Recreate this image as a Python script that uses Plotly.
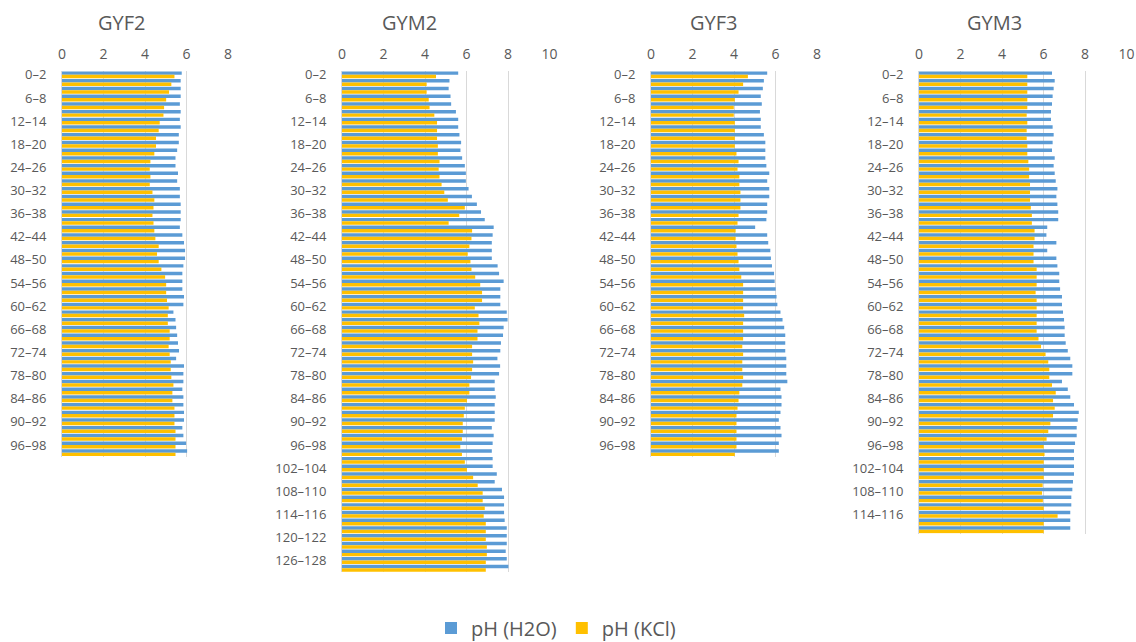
import plotly.graph_objects as go

W, H = 1136, 642

def depth_labels(n):
    return [f"{2*i}\u2013{2*i+2}" for i in range(n)]

# ---------------- data ----------------
gyf2_h2o = [5.77, 5.72, 5.72, 5.72, 5.68, 5.72, 5.68, 5.72, 5.63, 5.63,
            5.55, 5.47, 5.47, 5.59, 5.55, 5.68, 5.68, 5.72, 5.72, 5.72,
            5.68, 5.80, 5.88, 5.93, 5.93, 5.85, 5.80, 5.80, 5.80, 5.88,
            5.85, 5.37, 5.47, 5.50, 5.55, 5.59, 5.64, 5.50, 5.88, 5.85,
            5.85, 5.80, 5.85, 5.85, 5.88, 5.88, 5.80, 5.85, 5.98, 6.03]
gyf2_kcl = [5.42, 5.27, 5.16, 5.02, 4.92, 4.89, 4.71, 4.66, 4.53, 4.53,
            4.45, 4.26, 4.23, 4.26, 4.23, 4.36, 4.45, 4.41, 4.36, 4.41,
            4.45, 4.50, 4.66, 4.58, 4.66, 4.79, 4.97, 5.02, 5.02, 5.06,
            5.14, 5.10, 5.10, 5.19, 5.19, 5.14, 5.19, 5.24, 5.24, 5.27,
            5.37, 5.32, 5.32, 5.42, 5.42, 5.42, 5.47, 5.47, 5.47, 5.47]

gym2_h2o = [5.60, 5.18, 5.14, 5.23, 5.26, 5.49, 5.60, 5.60, 5.66, 5.74,
            5.71, 5.79, 5.92, 5.97, 5.97, 6.10, 6.26, 6.50, 6.70, 6.88,
            7.31, 7.26, 7.22, 7.22, 7.22, 7.50, 7.57, 7.79, 7.63, 7.63,
            7.63, 7.94, 7.98, 7.79, 7.76, 7.66, 7.63, 7.49, 7.62, 7.57,
            7.36, 7.36, 7.41, 7.36, 7.36, 7.36, 7.22, 7.31, 7.26, 7.22,
            7.26, 7.26, 7.46, 7.36, 7.71, 7.81, 7.81, 7.81, 7.84, 7.94,
            7.94, 7.94, 7.89, 7.94, 8.02]
gym2_kcl = [4.53, 4.08, 4.08, 4.18, 4.22, 4.45, 4.58, 4.58, 4.58, 4.62,
            4.62, 4.70, 4.66, 4.70, 4.80, 4.93, 5.10, 5.92, 5.65, 5.14,
            6.27, 6.24, 6.14, 6.06, 6.19, 6.24, 6.42, 6.66, 6.75, 6.75,
            6.40, 6.58, 6.62, 6.53, 6.53, 6.27, 6.27, 6.32, 6.27, 6.22,
            6.14, 6.14, 6.02, 5.92, 5.87, 5.82, 5.82, 5.78, 5.70, 5.78,
            5.92, 6.02, 6.32, 6.54, 6.78, 6.78, 6.88, 6.83, 6.93, 6.93,
            6.93, 6.98, 6.98, 6.93, 6.93]

gyf3_h2o = [5.60, 5.44, 5.39, 5.29, 5.34, 5.25, 5.29, 5.29, 5.44, 5.51,
            5.51, 5.51, 5.56, 5.70, 5.60, 5.70, 5.70, 5.60, 5.60, 5.56,
            5.02, 5.60, 5.65, 5.75, 5.78, 5.83, 5.93, 5.96, 6.01, 6.05,
            6.09, 6.24, 6.34, 6.42, 6.47, 6.47, 6.47, 6.52, 6.52, 6.52,
            6.57, 6.24, 6.29, 6.29, 6.24, 6.16, 6.24, 6.29, 6.16, 6.16]
gyf3_kcl = [4.67, 4.44, 4.22, 4.04, 3.99, 3.99, 4.04, 4.04, 4.04, 4.04,
            4.12, 4.22, 4.17, 4.26, 4.26, 4.31, 4.31, 4.31, 4.22, 4.17,
            4.08, 4.08, 4.12, 4.17, 4.22, 4.26, 4.35, 4.44, 4.44, 4.44,
            4.44, 4.49, 4.44, 4.44, 4.44, 4.40, 4.44, 4.40, 4.40, 4.44,
            4.40, 4.26, 4.22, 4.17, 4.12, 4.12, 4.12, 4.12, 4.12, 4.04]

gym3_h2o = [6.41, 6.54, 6.49, 6.44, 6.41, 6.36, 6.36, 6.44, 6.49, 6.44,
            6.41, 6.54, 6.49, 6.54, 6.59, 6.67, 6.62, 6.67, 6.71, 6.71,
            6.18, 6.14, 6.62, 6.18, 6.62, 6.67, 6.76, 6.76, 6.80, 6.89,
            6.89, 6.94, 6.99, 7.02, 7.02, 7.07, 7.17, 7.29, 7.39, 7.39,
            6.89, 7.17, 7.29, 7.47, 7.70, 7.65, 7.60, 7.60, 7.52, 7.47,
            7.47, 7.47, 7.47, 7.42, 7.39, 7.34, 7.34, 7.29, 7.29, 7.29]
gym3_kcl = [5.22, 5.22, 5.22, 5.22, 5.22, 5.19, 5.22, 5.19, 5.19, 5.22,
            5.22, 5.27, 5.31, 5.31, 5.35, 5.35, 5.35, 5.39, 5.44, 5.44,
            5.57, 5.57, 5.52, 5.52, 5.52, 5.67, 5.67, 5.67, 5.62, 5.67,
            5.67, 5.67, 5.67, 5.67, 5.76, 5.88, 6.10, 6.23, 6.28, 6.28,
            6.41, 6.59, 6.46, 6.54, 6.46, 6.33, 6.23, 6.15, 6.01, 6.05,
            6.01, 6.01, 6.01, 5.96, 5.93, 5.97, 6.01, 6.68, 6.01, 6.01]

panel_titles = ["GYF2", "GYM2", "GYF3", "GYM3"]
panel_h2o = [gyf2_h2o, gym2_h2o, gyf3_h2o, gym3_h2o]
panel_kcl = [gyf2_kcl, gym2_kcl, gyf3_kcl, gym3_kcl]
x_max = [8, 10, 8, 10]
x_ticks = [[0, 2, 4, 6, 8], [0, 2, 4, 6, 8, 10], [0, 2, 4, 6, 8], [0, 2, 4, 6, 8, 10]]

# ---------------- layout geometry (screen pixels) ----------------
x_left = [62, 342, 651, 919]
px_per_unit = 20.75
cat_px = 7.71
top_px = 71
title_x = [121, 409, 713, 994]
title_y = 22
legend_cx, legend_cy = 556, 628

BLUE = "#5B9BD5"
YELLOW = "#FFC000"
GRAY_TXT = "#595959"
GRID = "#D9D9D9"
FONT = "Open Sans"

def px(x):
    return x / W

def py(y):
    return 1 - y / H

fig = go.Figure()
layout = dict(
    template="none",
    width=W, height=H,
    margin=dict(l=0, r=0, t=0, b=0, pad=0, autoexpand=False),
    paper_bgcolor="white", plot_bgcolor="white",
    barmode="group", bargap=0.1, bargroupgap=0.0,
    font=dict(family=FONT, color=GRAY_TXT, size=13),
    showlegend=True,
    legend=dict(orientation="h", x=px(legend_cx), xanchor="center",
                y=py(legend_cy), yanchor="middle",
                font=dict(size=20, color=GRAY_TXT, family=FONT), traceorder="normal",
                bgcolor="rgba(0,0,0,0)"),
    annotations=[],
)

for i in range(4):
    n = len(panel_h2o[i])
    cats = depth_labels(n)
    xa = "x" if i == 0 else f"x{i+1}"
    ya = "y" if i == 0 else f"y{i+1}"
    fig.add_trace(go.Bar(y=cats, x=panel_h2o[i], orientation="h", name="pH (H2O)",
                         marker=dict(color=BLUE, line=dict(width=0)),
                         xaxis=xa, yaxis=ya, legendgroup="h2o", showlegend=(i == 0)))
    fig.add_trace(go.Bar(y=cats, x=panel_kcl[i], orientation="h", name="pH (KCl)",
                         marker=dict(color=YELLOW, line=dict(width=0)),
                         xaxis=xa, yaxis=ya, legendgroup="kcl", showlegend=(i == 0)))

    x0 = x_left[i]
    x1 = x0 + x_max[i] * px_per_unit
    y_top = top_px
    y_bot = top_px + n * cat_px
    xkey = "xaxis" if i == 0 else f"xaxis{i+1}"
    ykey = "yaxis" if i == 0 else f"yaxis{i+1}"
    layout[xkey] = dict(
        domain=[px(x0), px(x1)], anchor=ya, side="top", automargin=False,
        range=[0, x_max[i]], tickvals=x_ticks[i],
        showgrid=True, gridcolor=GRID, gridwidth=1, zeroline=False,
        showline=False, ticks="outside", ticklen=5, tickcolor="rgba(0,0,0,0)",
        tickfont=dict(size=14, color=GRAY_TXT, family=FONT), fixedrange=True,
        ticklabeloverflow="allow",
    )
    layout[ykey] = dict(
        domain=[py(y_bot), py(y_top)], anchor=xa, automargin=False,
        type="category", categoryorder="array", categoryarray=cats,
        autorange="reversed", tickvals=cats[::3],
        showgrid=False, showline=True, linecolor=GRID, linewidth=1,
        ticks="outside", ticklen=12, tickcolor="rgba(0,0,0,0)",
        tickfont=dict(size=13, color=GRAY_TXT, family=FONT), fixedrange=True,
    )
    layout["annotations"].append(dict(
        text=panel_titles[i], x=px(title_x[i]), y=py(title_y),
        xref="paper", yref="paper", xanchor="center", yanchor="middle",
        showarrow=False, font=dict(size=20, color=GRAY_TXT, family=FONT)))

fig.update_layout(**layout)
# place the fixed-size figure at the page corner (no default 8px body margin)
fig.write_html("out.html",
               config={"displayModeBar": False},
               post_script="document.body.style.margin='0';document.body.style.overflow='hidden';")
